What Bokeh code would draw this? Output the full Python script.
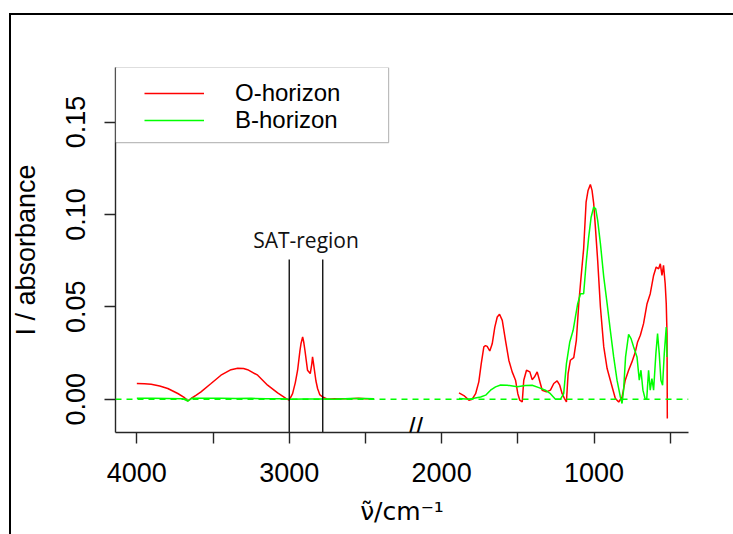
import math
from bokeh.plotting import figure
from bokeh.models import (Range1d, FixedTicker, Span, Label, Legend, LegendItem,
                          BoxAnnotation, NumeralTickFormatter)
from bokeh.embed import file_html
from bokeh.resources import INLINE

nan = float("nan")

# ---------------- data ----------------
# O-horizon (red): high-wavenumber block, gap, fingerprint block
o_wn = [4000, 3950, 3906, 3850, 3797, 3731, 3690, 3666, 3644, 3610, 3579, 3513, 3448,
        3382, 3338, 3300, 3273, 3207, 3142, 3076, 3022, 3000, 2978, 2960, 2945, 2930,
        2923, 2912, 2905, 2897, 2880, 2862, 2852, 2847, 2840, 2836, 2825, 2814, 2800,
        2781, 2749, 2700, 2600, 2545, 2500, 2445,
        nan,
        1886, 1854, 1821, 1799, 1777, 1756, 1740, 1723, 1712, 1701, 1684, 1668, 1651,
        1635, 1620, 1602, 1581, 1559, 1537, 1515, 1500, 1487, 1471, 1461, 1443, 1421,
        1406, 1391, 1373, 1358, 1340, 1312, 1286, 1264, 1242, 1225, 1209, 1194, 1181,
        1170, 1155, 1133, 1116, 1100, 1085, 1068, 1052, 1039, 1024, 1013, 1002, 991,
        976, 958, 936, 914, 893, 875, 860, 838, 816, 795, 773, 751, 729, 714, 696, 675,
        652, 631, 609, 592, 576, 565, 554, 544, 533, 526, 521, 519]
o_abs = [0.0085, 0.0084, 0.0081, 0.0072, 0.0058, 0.0031, 0.0010, -0.0009, 0.0004, 0.0022,
         0.0040, 0.0085, 0.0130, 0.0160, 0.0168, 0.0166, 0.0160, 0.0130, 0.0076, 0.0034,
         0.0004, -0.0005, 0.0030, 0.0090, 0.0157, 0.0260, 0.0300, 0.0337, 0.0310, 0.0265,
         0.0157, 0.0139, 0.0190, 0.0229, 0.0190, 0.0166, 0.0100, 0.0058, 0.0025, 0.0012,
         0.0000, 0.0002, 0.0003, 0.0005, 0.0002, 0.0002,
         nan,
         0.0034, 0.0020, -0.0005, 0.0000, 0.0030, 0.0094, 0.0193, 0.0283, 0.0290, 0.0286,
         0.0261, 0.0300, 0.0390, 0.0445, 0.0460, 0.0427, 0.0319, 0.0211, 0.0148, 0.0103,
         0.0030, -0.0005, -0.0015, 0.0103, 0.0157, 0.0148, 0.0106, 0.0120, 0.0148, 0.0103,
         0.0049, 0.0040, 0.0049, 0.0085, 0.0099, 0.0076, 0.0030, 0.0004, -0.0015, 0.0139,
         0.0211, 0.0225, 0.0319, 0.0517, 0.0661, 0.0815, 0.1066, 0.1130, 0.1162, 0.1130,
         0.1058, 0.0931, 0.0751, 0.0499, 0.0283, 0.0166, 0.0103, 0.0049, 0.0004, -0.0015,
         0.0012, 0.0103, 0.0157, 0.0202, 0.0256, 0.0310, 0.0346, 0.0409, 0.0517, 0.0571,
         0.0670, 0.0715, 0.0706, 0.0733, 0.0670, 0.0724, 0.0625, 0.0517, 0.0355, -0.0104]

# B-horizon (green)
b_wn = [4000, 3900, 3800, 3700, 3666, 3640, 3550, 3450, 3350, 3250, 3150, 3050, 3000,
        2900, 2800, 2700, 2600, 2500, 2445,
        nan,
        1886, 1821, 1788, 1744, 1711, 1679, 1646, 1613, 1569, 1504, 1450, 1406, 1362,
        1319, 1286, 1253, 1220, 1199, 1181, 1159, 1137, 1122, 1107, 1089, 1068, 1052,
        1035, 1019, 1002, 989, 976, 958, 936, 914, 893, 871, 849, 827, 816, 806, 793,
        773, 757, 740, 718, 703, 692, 679, 664, 654, 642, 631, 620, 609, 594, 583, 572,
        561, 550, 539, 526, 521]
b_abs = [0.0005, 0.0005, 0.0004, 0.0003, -0.0010, 0.0005, 0.0006, 0.0005, 0.0004, 0.0005,
         0.0003, 0.0002, 0.0000, 0.0001, 0.0001, 0.0000, 0.0004, 0.0004, 0.0003,
         nan,
         0.0004, 0.0000, 0.0005, 0.0012, 0.0022, 0.0049, 0.0067, 0.0077, 0.0076, 0.0067,
         0.0074, 0.0076, 0.0063, 0.0049, 0.0030, 0.0000, 0.0000, 0.0030, 0.0193, 0.0310,
         0.0373, 0.0445, 0.0517, 0.0571, 0.0571, 0.0733, 0.0877, 0.0985, 0.1040, 0.1030,
         0.0968, 0.0842, 0.0661, 0.0517, 0.0373, 0.0229, 0.0103, 0.0012, -0.0023, 0.0049,
         0.0229, 0.0351, 0.0328, 0.0283, 0.0229, 0.0103, 0.0157, 0.0049, 0.0000, 0.0002,
         0.0157, 0.0049, 0.0112, 0.0049, 0.0247, 0.0355, 0.0247, 0.0103, 0.0076, 0.0247,
         0.0390, 0.0229]

x_ticks = [4000, 3500, 3000, 2500, 2000, 1500, 1000, 500]
x_tick_labels = {4000: "4000", 3500: "", 3000: "3000", 2500: "", 2000: "2000",
                 1500: "", 1000: "1000", 500: ""}
y_ticks = [0.0, 0.05, 0.10, 0.15]

sat_bounds = [3000, 2780]
sat_top = 0.0756

series_names = ["O-horizon", "B-horizon"]
x_title = "\u03bd\u0303/cm\u207b\u00b9"
y_title = "I / absorbance"

# ---------------- figure ----------------
X_START, X_END = 4140, 380
Y_START, Y_END = -0.018, 0.1795
FONT = "Liberation Sans"

p = figure(width=733, height=534, output_backend="svg", toolbar_location=None,
           x_range=Range1d(X_START, X_END), y_range=Range1d(Y_START, Y_END),
           min_border_left=115, min_border_right=45, min_border_top=67,
           min_border_bottom=102)
# outer frame of the original figure (left and top edges only are in view)
p.styles = {
    "background-color": "white",
    "background-image": "linear-gradient(#000, #000), linear-gradient(#000, #000)",
    "background-repeat": "no-repeat",
    "background-size": "2px 100%, 100% 2px",
    "background-position": "9px 13px, 9px 13px",
}
p.grid.visible = False
p.outline_line_color = None
p.background_fill_color = "white"
p.border_fill_color = None

for ax in (p.xaxis[0], p.yaxis[0]):
    ax.axis_line_color = "#262626"
    ax.axis_line_width = 1.4
    ax.major_tick_line_color = "#262626"
    ax.major_tick_line_width = 1.4
    ax.major_tick_out = 11
    ax.major_tick_in = 0
    ax.minor_tick_line_color = None
    ax.major_label_text_font = FONT
    ax.major_label_text_font_size = "27px"
    ax.major_label_text_color = "black"
    ax.axis_label_text_font = FONT
    ax.axis_label_text_font_size = "27px"
    ax.axis_label_text_font_style = "normal"
    ax.axis_label_text_color = "black"

p.xaxis.ticker = FixedTicker(ticks=x_ticks)
p.xaxis.major_label_overrides = x_tick_labels
p.xaxis.major_label_standoff = 19
p.xaxis.axis_label = x_title
p.xaxis.axis_label_text_font = "DejaVu Sans"
p.xaxis.axis_label_text_font_size = "25px"
p.xaxis.axis_label_standoff = 12
p.yaxis.ticker = FixedTicker(ticks=y_ticks)
p.yaxis.formatter = NumeralTickFormatter(format="0.00")
p.yaxis.major_label_orientation = "vertical"
p.yaxis.major_label_standoff = 19
p.yaxis.axis_label = y_title
p.yaxis.axis_label_standoff = 23

# zero line
p.add_layout(Span(location=0, dimension="width", line_color="#00ff00",
                  line_dash="6 5", line_width=1.4))

r_o = p.line(o_wn, o_abs, line_color="#ff0000", line_width=1.5)
r_b = p.line(b_wn, b_abs, line_color="#00ff00", line_width=1.5)

# SAT region
p.segment(x0=sat_bounds, y0=[Y_START] * 2, x1=sat_bounds, y1=[sat_top] * 2,
          line_color="black", line_width=1.3)
p.add_layout(Label(x=sum(sat_bounds) / 2, y=0.0859, text="SAT-region",
                   text_align="center", text_baseline="alphabetic",
                   text_font="Open Sans", text_font_size="21px", text_color="#111"))

# axis break mark
p.add_layout(Label(x=2171, y=-0.0158, text="//", text_align="center",
                   text_baseline="middle", text_font=FONT, text_font_size="27px",
                   text_color="black"))

# legend box + legends (one per row, R-style tight rows)
p.add_layout(BoxAnnotation(left=X_START, top=Y_END, right=2348, bottom=0.1389,
                           fill_color="white", fill_alpha=1.0, line_color="#222",
                           line_width=1.2))
for name, rend, ypos in ((series_names[0], r_o, 324), (series_names[1], r_b, 297)):
    lg = Legend(items=[LegendItem(label=name, renderers=[rend])],
                location=(29, ypos), padding=0, spacing=0, margin=0,
                glyph_width=60, glyph_height=30, label_height=30, label_standoff=31,
                border_line_alpha=0, background_fill_alpha=0,
                label_text_font=FONT, label_text_font_size="24px",
                label_text_color="black")
    p.add_layout(lg)

open("out.html", "w").write(file_html(p, INLINE))
